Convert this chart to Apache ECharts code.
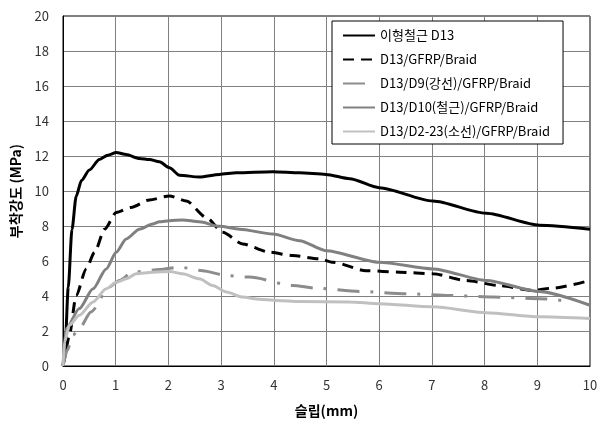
<!DOCTYPE html>
<html><head><meta charset="utf-8">
<script src="https://cdn.jsdelivr.net/npm/echarts@6/dist/echarts.min.js"></script>
<style>html,body{margin:0;padding:0;background:#fff}#c{width:608px;height:423px}</style>
</head><body><div id="c"></div>
<script>
var seriesNames = ['이형철근 D13','D13/GFRP/Braid','D13/D9(강선)/GFRP/Braid','D13/D10(철근)/GFRP/Braid','D13/D2-23(소선)/GFRP/Braid'];
var xTicks = [0,1,2,3,4,5,6,7,8,9,10];
var yTicks = [0,2,4,6,8,10,12,14,16,18,20];

var d13X = [0,0.03,0.1,0.17,0.25,0.35,0.5,0.69,0.85,1.01,1.2,1.45,1.64,1.83,2.02,2.21,2.59,2.97,3.29,3.98,4.49,4.99,5.44,6.0,7.02,8.03,9.04,10];
var d13Y = [0,0.4,4.5,7.8,9.7,10.6,11.2,11.8,12.05,12.2,12.08,11.86,11.8,11.67,11.33,10.9,10.8,10.95,11.04,11.1,11.04,10.95,10.7,10.19,9.43,8.73,8.05,7.82];

var gfrpX = [0,0.05,0.12,0.25,0.44,0.6,0.79,1.01,1.29,1.64,2.02,2.34,2.72,3.03,3.41,3.92,4.36,4.87,5.12,5.75,6.39,7.02,7.65,8.28,8.91,9.29,10];
var gfrpY = [0,0.9,1.76,4.03,5.55,6.5,7.82,8.77,9.06,9.49,9.72,9.43,8.49,7.64,6.97,6.5,6.31,6.12,5.93,5.45,5.36,5.27,4.89,4.6,4.32,4.45,4.89];

var d9X = [0,0.08,0.19,0.31,0.53,0.88,1.07,1.32,1.83,2.21,2.65,3.1,3.54,4.36,4.8,5.63,6.51,7.33,8.16,9.04,9.6];
var d9Y = [0,0.9,1.76,2.14,3.09,4.51,4.89,5.36,5.51,5.65,5.45,5.17,5.08,4.6,4.45,4.26,4.13,4.03,3.94,3.85,3.7];

var d10X = [0,0.06,0.31,0.57,0.82,1.01,1.2,1.45,1.7,1.83,2.02,2.27,2.59,2.97,3.35,3.98,4.49,4.99,6.0,7.02,8.03,9.04,10];
var d10Y = [0,2.14,3.28,4.41,5.55,6.5,7.26,7.82,8.11,8.24,8.3,8.35,8.24,7.98,7.82,7.54,7.16,6.59,5.93,5.55,4.89,4.26,3.47];

var d2X = [0,0.03,0.12,0.31,0.57,0.82,1.01,1.2,1.39,1.7,2.02,2.27,2.59,2.84,3.1,3.41,3.73,4.05,4.49,5.44,6.0,7.02,8.03,9.04,10];
var d2Y = [0,1.39,2.33,2.9,3.66,4.41,4.79,4.98,5.27,5.36,5.4,5.27,4.98,4.6,4.23,3.94,3.81,3.75,3.69,3.66,3.56,3.38,3.05,2.81,2.71];

function pairs(xs, ys){ return xs.map(function(x,i){ return [x, ys[i]]; }); }

var FONT = '"Noto Sans CJK KR", "Noto Sans", sans-serif';
var chart = echarts.init(document.getElementById('c'), null, {renderer:'canvas'});
function mk(name, xs, ys, color, type){
  return {name:name, type:'line', data:pairs(xs,ys), showSymbol:false, symbol:'none',
    smooth:0.25, smoothMonotone:'x',
    lineStyle:{color:color, width:3, type:type}, itemStyle:{color:color}};
}
chart.setOption({
  animation:false,
  backgroundColor:'#fff',
  grid:{left:63, top:16, width:527, height:352, show:true, borderColor:'#000', borderWidth:1},
  xAxis:{type:'value', min:xTicks[0], max:xTicks[xTicks.length-1], interval:1,
    name:'슬립(mm)', nameLocation:'middle', nameGap:38,
    nameTextStyle:{fontFamily:FONT, fontSize:14, fontWeight:'bold', color:'#000'},
    axisLine:{lineStyle:{color:'#000'}}, axisTick:{show:false},
    axisLabel:{fontFamily:FONT, fontSize:13, color:'#333', margin:13},
    splitLine:{show:true, lineStyle:{color:'#808080', width:1}}},
  yAxis:{type:'value', min:yTicks[0], max:yTicks[yTicks.length-1], interval:2,
    name:'부착강도 (MPa)', nameLocation:'middle', nameGap:40, nameRotate:90,
    nameTextStyle:{fontFamily:FONT, fontSize:14, fontWeight:'bold', color:'#000'},
    axisLine:{show:true, lineStyle:{color:'#000'}}, axisTick:{show:false},
    axisLabel:{fontFamily:FONT, fontSize:13, color:'#333', margin:14},
    splitLine:{show:true, lineStyle:{color:'#808080', width:1}}},
  legend:{orient:'vertical', left:332, top:21, itemWidth:32, itemHeight:14, itemGap:11,
    padding:[8,13,6,10], backgroundColor:'#fff', borderColor:'#000', borderWidth:1,
    itemStyle:{color:'rgba(0,0,0,0)', borderColor:'rgba(0,0,0,0)', borderWidth:0, opacity:0},
    textStyle:{fontFamily:FONT, fontSize:13, color:'#000'},
    data:seriesNames},
  series:[
    mk(seriesNames[0], d13X, d13Y, '#000000', 'solid'),
    mk(seriesNames[1], gfrpX, gfrpY, '#000000', [11,7]),
    mk(seriesNames[2], d9X, d9Y, '#8c8c8c', [22,11,3,11]),
    mk(seriesNames[3], d10X, d10Y, '#808080', 'solid'),
    mk(seriesNames[4], d2X, d2Y, '#c0c0c0', 'solid')
  ]
});
</script></body></html>
